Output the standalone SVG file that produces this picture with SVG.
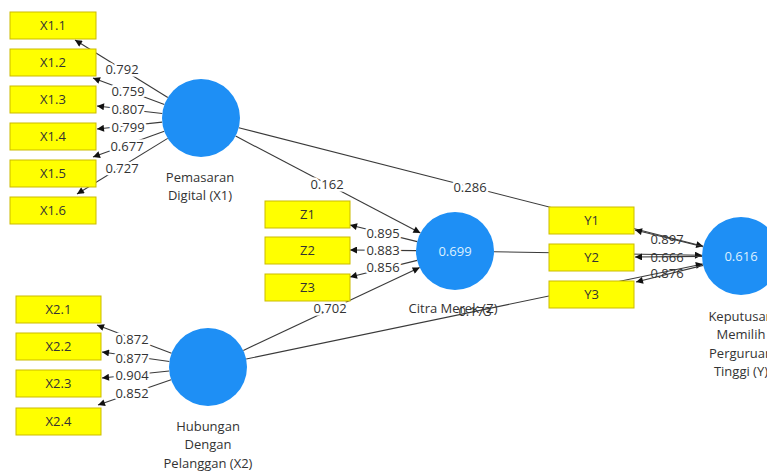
<svg xmlns="http://www.w3.org/2000/svg" width="767" height="471" viewBox="0 0 767 471">
<defs>
<marker id="arr" viewBox="0 0 10 10" refX="10" refY="5" markerWidth="9" markerHeight="7" markerUnits="userSpaceOnUse" orient="auto">
<path d="M0,0 L10,5 L0,10 z" fill="#111"/>
</marker>
<style>
.c{stroke:#3a3a3a;stroke-width:1.1;fill:none;marker-end:url(#arr)}
.ind rect{fill:#ffff00;stroke:#cbbb00;stroke-width:1}
.ind text,.lbl{font-family:"Open Sans","Noto Sans",sans-serif;font-size:13px;fill:#333;text-anchor:middle}
.lv circle{fill:#1e8ff5}
.val{font-family:"Open Sans","Noto Sans",sans-serif;font-size:13px;fill:#dcefff;text-anchor:middle}
.w{font-family:"Open Sans","Noto Sans",sans-serif;font-size:13px;fill:#333;text-anchor:middle;stroke:#fff;stroke-width:5;stroke-linejoin:round;paint-order:stroke}
.n{font-family:"Open Sans","Noto Sans",sans-serif;font-size:13px;fill:#333;text-anchor:middle}
</style>
</defs>
<rect width="767" height="471" fill="#fff"/>
<g id="connectors">
<line class="c" x1="167.8" y1="97.5" x2="75" y2="40"/>
<line class="c" x1="164.4" y1="104.5" x2="93" y2="78"/>
<line class="c" x1="162.3" y1="113.5" x2="97" y2="106"/>
<line class="c" x1="162.2" y1="122.1" x2="97" y2="129"/>
<line class="c" x1="164.3" y1="131.3" x2="93" y2="157"/>
<line class="c" x1="167.7" y1="138.4" x2="77" y2="194"/>
<line class="c" x1="171.5" y1="353.2" x2="97" y2="325"/>
<line class="c" x1="169.4" y1="361.5" x2="102" y2="352"/>
<line class="c" x1="169.2" y1="371" x2="102" y2="378"/>
<line class="c" x1="171.1" y1="379.7" x2="98" y2="405"/>
<line class="c" x1="417.2" y1="241.6" x2="350" y2="225"/>
<line class="c" x1="416" y1="250.6" x2="350" y2="250"/>
<line class="c" x1="417.2" y1="260.4" x2="350" y2="277"/>
<line class="c" x1="235.6" y1="136.1" x2="420.4" y2="232.9"/>
<line class="c" x1="243.3" y1="350.4" x2="419.7" y2="267.6"/>
<line class="c" x1="238.8" y1="127.7" x2="703.2" y2="246.3"/>
<line class="c" x1="494" y1="251.7" x2="702" y2="255.3"/>
<line class="c" x1="246.2" y1="359" x2="702.8" y2="264"/>
<line class="c" x1="703.1" y1="246.7" x2="635" y2="230"/>
<line class="c" x1="702" y1="256.4" x2="635" y2="257"/>
<line class="c" x1="703.1" y1="265.4" x2="636" y2="282"/>
<text class="w" x="122" y="74">0.792</text>
<text class="w" x="128" y="96">0.759</text>
<text class="w" x="128" y="114">0.807</text>
<text class="w" x="128" y="132">0.799</text>
<text class="w" x="127" y="151">0.677</text>
<text class="w" x="122" y="173">0.727</text>
<text class="w" x="132" y="344">0.872</text>
<text class="w" x="132" y="363">0.877</text>
<text class="w" x="132" y="380">0.904</text>
<text class="w" x="132" y="398">0.852</text>
<text class="w" x="383" y="238">0.895</text>
<text class="w" x="383" y="255">0.883</text>
<text class="w" x="383" y="272">0.856</text>
<text class="w" x="327" y="189">0.162</text>
<text class="w" x="330" y="313">0.702</text>
<text class="w" x="470" y="192">0.286</text>
<text class="n" x="667" y="244">0.897</text>
<text class="n" x="667" y="262">0.666</text>
<text class="n" x="667" y="278">0.876</text>
</g>
<g id="X1.1" class="ind"><rect x="10" y="12" width="86" height="27"/><text x="53" y="30">X1.1</text></g>
<g id="X1.2" class="ind"><rect x="10" y="49" width="86" height="27"/><text x="53" y="67">X1.2</text></g>
<g id="X1.3" class="ind"><rect x="10" y="86" width="86" height="27"/><text x="53" y="104">X1.3</text></g>
<g id="X1.4" class="ind"><rect x="10" y="123" width="86" height="27"/><text x="53" y="141">X1.4</text></g>
<g id="X1.5" class="ind"><rect x="10" y="160" width="86" height="27"/><text x="53" y="178">X1.5</text></g>
<g id="X1.6" class="ind"><rect x="10" y="197" width="86" height="27"/><text x="53" y="215">X1.6</text></g>
<g id="X2.1" class="ind"><rect x="16" y="296" width="85" height="27"/><text x="58.5" y="314">X2.1</text></g>
<g id="X2.2" class="ind"><rect x="16" y="333" width="85" height="27"/><text x="58.5" y="351">X2.2</text></g>
<g id="X2.3" class="ind"><rect x="16" y="370" width="85" height="27"/><text x="58.5" y="388">X2.3</text></g>
<g id="X2.4" class="ind"><rect x="16" y="408" width="85" height="27"/><text x="58.5" y="426">X2.4</text></g>
<g id="Z1" class="ind"><rect x="265" y="201" width="85" height="27"/><text x="307.5" y="219">Z1</text></g>
<g id="Z2" class="ind"><rect x="265" y="237" width="85" height="27"/><text x="307.5" y="255">Z2</text></g>
<g id="Z3" class="ind"><rect x="265" y="274" width="85" height="27"/><text x="307.5" y="292">Z3</text></g>
<g id="Y1" class="ind"><rect x="549" y="207" width="85" height="27"/><text x="591.5" y="225">Y1</text></g>
<g id="Y2" class="ind"><rect x="549" y="244" width="85" height="27"/><text x="591.5" y="262">Y2</text></g>
<g id="Y3" class="ind"><rect x="549" y="281" width="85" height="27"/><text x="591.5" y="299">Y3</text></g>
<g id="X1" class="lv"><circle cx="201" cy="118" r="39"/><text class="lbl" x="200" y="182">Pemasaran</text><text class="lbl" x="200" y="200">Digital (X1)</text></g>
<g id="X2" class="lv"><circle cx="208" cy="367" r="39"/><text class="lbl" x="208" y="431">Hubungan</text><text class="lbl" x="208" y="449">Dengan</text><text class="lbl" x="208" y="468">Pelanggan (X2)</text></g>
<g id="Z" class="lv"><circle cx="455" cy="251" r="39"/><text class="val" x="455" y="256">0.699</text><text class="lbl" x="453" y="313">Citra Merek (Z)</text></g>
<g id="Y" class="lv"><circle cx="741" cy="256" r="39"/><text class="val" x="741" y="261">0.616</text><text class="lbl" x="741" y="321">Keputusan</text><text class="lbl" x="741" y="339">Memilih</text><text class="lbl" x="741" y="358">Perguruan</text><text class="lbl" x="741" y="376">Tinggi (Y)</text></g>
<text class="n" x="475" y="316">0.173</text>
</svg>
